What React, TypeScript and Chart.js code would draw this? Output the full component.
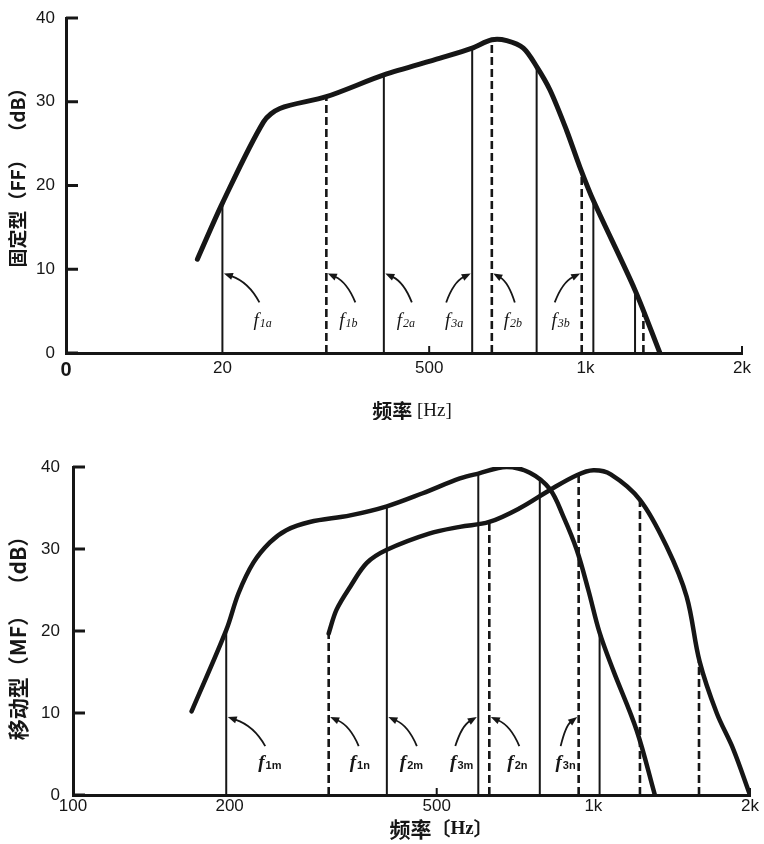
import React, { useEffect, useRef } from "react";
import { Chart, registerables } from "chart.js";

Chart.register(...registerables);

// ================= Data: 固定型 (FF) =================
const FF_FREQ = [179, 200, 240, 258, 317, 409, 525, 605, 660, 705, 759, 805, 854, 919, 975, 1035, 1245, 1390];
const FF_DB = [11.2, 17.9, 27.6, 29.2, 30.6, 33.2, 35.2, 36.4, 37.4, 37.3, 36.4, 34.2, 31.4, 26.6, 22.2, 18.2, 7.5, 0];
const FF_LINE_FREQ = [200, 317, 409, 605, 660, 805, 983, 1035, 1245, 1292];
const FF_LINE_TOP = [17.9, 30.6, 33.2, 36.4, 37.4, 34.2, 21.5, 18.2, 7.5, 5.2];
const FF_LINE_DASHED = [false, true, false, false, true, false, true, false, false, true];
const FF_MARK_LINE = [0, 1, 2, 3, 4, 6];
const FF_MARK_SUB = ["1a", "1b", "2a", "3a", "2b", "3b"];

// ================= Data: 移动型 (MF) =================
const MF_M_FREQ = [169, 197, 208, 222, 239, 257, 285, 341, 401, 470, 554, 601, 681, 755, 825, 875, 929, 978, 1028, 1092, 1211, 1313];
const MF_M_DB = [10.2, 20.1, 24.6, 28.3, 30.8, 32.3, 33.3, 34.1, 35.2, 36.8, 38.6, 39.2, 40.0, 39.3, 37.3, 34.0, 29.9, 25.0, 19.8, 15.2, 7.9, 0];
const MF_N_FREQ = [310, 321, 341, 367, 401, 485, 554, 631, 723, 825, 929, 1000, 1080, 1229, 1383, 1511, 1600, 1726, 1857, 2000];
const MF_N_DB = [19.7, 22.6, 25.4, 28.3, 29.9, 31.9, 32.7, 33.3, 35.0, 37.2, 39.0, 39.6, 39.1, 36.0, 30.3, 24.2, 16.3, 10.0, 5.6, 0];
const MF_LINE_FREQ = [197, 310, 401, 601, 631, 789, 937, 1028, 1229, 1596];
const MF_LINE_TOP = [20.1, 19.7, 35.2, 39.2, 33.3, 38.5, 39.1, 19.8, 36.0, 16.3];
const MF_LINE_DASHED = [false, true, false, false, true, false, true, false, true, true];
const MF_MARK_LINE = [0, 1, 2, 3, 4, 6];
const MF_MARK_SUB = ["1m", "1n", "2m", "3m", "2n", "3n"];

// ================= Axes =================
const X_TICKS = [100, 200, 500, 1000, 2000];
const FF_X_LABELS = ["0", "20", "500", "1k", "2k"];
const MF_X_LABELS = ["100", "200", "500", "1k", "2k"];
const Y_TICKS = [0, 10, 20, 30, 40];
const X_SMALL_MARKS = [500, 2000];
const LABEL_DB = 4;
const ARROW_DB = 9.5;

const INK = "#161616";
const CJK = '"Noto Sans CJK SC"';

type Run = [string, string];

const FF_LAYOUT = {
  width: 764,
  height: 420,
  plotLeft: 66,
  plotRight: 742,
  plotTop: 18,
  plotBottom: 353,
  xTickPad: -3,
  yTickPad: 3,
  curveWidth: 5,
  tension: 0.3,
  labelDx: [31, 13, 13, -9, 12, -12],
  arrowDx: [37, 29, 28, -26, 23, -27],
  fFont: 'italic 19px "Liberation Serif"',
  subFont: 'italic 12px "Liberation Serif"',
  yTitle: { x: 18, y: 173, runs: [["固定型（FF）  （dB）", `bold 19px ${CJK}`]] as Run[] },
  xTitle: {
    x: 412,
    y: 411,
    runs: [
      ["频率", `bold 20px ${CJK}`],
      [" [Hz]", '19px "Liberation Serif"'],
    ] as Run[],
  },
};

const MF_LAYOUT = {
  width: 764,
  height: 424,
  plotLeft: 73,
  plotRight: 750,
  plotTop: 47,
  plotBottom: 375,
  xTickPad: -7,
  yTickPad: 5,
  curveWidth: 4.5,
  tension: 0.35,
  labelDx: [32, 21, 13, -5, 18, -3],
  arrowDx: [39, 30, 30, -23, 30, -18],
  fFont: 'italic bold 19px "Liberation Serif"',
  subFont: 'bold 11px "Liberation Sans"',
  yTitle: { x: 18, y: 213, runs: [["移动型（MF）  （dB）", `bold 21px ${CJK}`]] as Run[] },
  xTitle: {
    x: 441,
    y: 409,
    runs: [
      ["频率", `bold 21px ${CJK}`],
      ["〔", `bold 19px ${CJK}`],
      ["Hz", 'bold 19px "Liberation Serif"'],
      ["〕", `bold 19px ${CJK}`],
    ] as Run[],
  },
};

function drawRuns(ctx: CanvasRenderingContext2D, runs: Run[], cx: number, cy: number) {
  let total = 0;
  const widths = runs.map(([t, f]) => {
    ctx.font = f;
    const w = ctx.measureText(t).width;
    total += w;
    return w;
  });
  let x = cx - total / 2;
  ctx.textAlign = "left";
  ctx.textBaseline = "middle";
  runs.forEach(([t, f], i) => {
    ctx.font = f;
    ctx.fillText(t, x, cy);
    x += widths[i];
  });
}

function decorPlugin(L: any, lineFreq: number[], markLine: number[], markSub: string[]) {
  return {
    id: "decor",
    afterDatasetsDraw(chart: any) {
      const ctx: CanvasRenderingContext2D = chart.ctx;
      const xs = chart.scales.x;
      const ys = chart.scales.y;
      const a = chart.chartArea;
      ctx.save();
      ctx.strokeStyle = INK;
      ctx.fillStyle = INK;
      ctx.setLineDash([]);

      // inward y ticks
      ctx.lineWidth = 3;
      ctx.lineCap = "butt";
      Y_TICKS.forEach((v) => {
        const py = ys.getPixelForValue(v);
        ctx.beginPath();
        ctx.moveTo(a.left, py);
        ctx.lineTo(a.left + 12, py);
        ctx.stroke();
      });
      // small upward x marks
      ctx.lineWidth = 2;
      X_SMALL_MARKS.forEach((v) => {
        const px = xs.getPixelForValue(v);
        ctx.beginPath();
        ctx.moveTo(px, a.bottom);
        ctx.lineTo(px, a.bottom - 7);
        ctx.stroke();
      });

      // annotation labels + curved arrows
      markLine.forEach((li, i) => {
        const lx = xs.getPixelForValue(lineFreq[li]);
        const dir = L.arrowDx[i] > 0 ? 1 : -1;
        const ex = lx + dir * 1.5;
        const ey = ys.getPixelForValue(ARROW_DB);
        const sx = lx + L.arrowDx[i];
        const sy = ey + 29;
        const cx = sx + (ex - sx) * 0.3;
        const cy = sy + (ey - sy) * 0.7;
        let tx = ex - cx;
        let ty = ey - cy;
        const tl = Math.hypot(tx, ty) || 1;
        tx /= tl;
        ty /= tl;
        const head = 9;
        const hw = 3.6;
        const bx = ex - tx * head;
        const by = ey - ty * head;
        ctx.lineWidth = 1.8;
        ctx.beginPath();
        ctx.moveTo(sx, sy);
        ctx.quadraticCurveTo(cx, cy, bx + tx * 1, by + ty * 1);
        ctx.stroke();
        ctx.beginPath();
        ctx.moveTo(ex, ey);
        ctx.lineTo(bx - ty * hw, by + tx * hw);
        ctx.lineTo(bx + ty * hw, by - tx * hw);
        ctx.closePath();
        ctx.fill();

        // label
        const base = ys.getPixelForValue(LABEL_DB) + 6;
        ctx.textBaseline = "alphabetic";
        ctx.textAlign = "left";
        ctx.font = L.fFont;
        const fw = ctx.measureText("f").width;
        ctx.font = L.subFont;
        const sw = ctx.measureText(markSub[i]).width;
        const total = fw + 1 + sw;
        const start = L.labelDx[i] >= 0 ? lx + L.labelDx[i] : lx + L.labelDx[i] - total;
        ctx.font = L.fFont;
        ctx.fillText("f", start, base);
        ctx.font = L.subFont;
        ctx.fillText(markSub[i], start + fw + 1, base + 1);
      });

      // axis titles
      ctx.save();
      ctx.translate(L.yTitle.x, L.yTitle.y);
      ctx.rotate(-Math.PI / 2);
      drawRuns(ctx, L.yTitle.runs, 0, 0);
      ctx.restore();
      drawRuns(ctx, L.xTitle.runs, L.xTitle.x, L.xTitle.y);
      ctx.restore();
    },
  };
}

function buildConfig(
  L: any,
  curves: { freq: number[]; db: number[] }[],
  lineFreq: number[],
  lineTop: number[],
  lineDashed: boolean[],
  markLine: number[],
  markSub: string[],
  xLabels: string[],
  boldZero: boolean
): any {
  const datasets: any[] = [];
  curves.forEach((c) =>
    datasets.push({
      data: c.freq.map((f, i) => ({ x: f, y: c.db[i] })),
      borderColor: INK,
      borderWidth: L.curveWidth,
      pointRadius: 0,
      tension: L.tension,
      borderCapStyle: "round",
      borderJoinStyle: "round",
      fill: false,
    })
  );
  lineFreq.forEach((f, i) =>
    datasets.push({
      data: [
        { x: f, y: 0 },
        { x: f, y: lineTop[i] },
      ],
      borderColor: INK,
      borderWidth: lineDashed[i] ? 2.6 : 2,
      borderDash: lineDashed[i] ? [8, 4] : [],
      pointRadius: 0,
      fill: false,
    })
  );

  const tickFont = { family: '"Liberation Sans"', size: 17 };
  return {
    type: "line",
    data: { datasets },
    options: {
      animation: false,
      responsive: false,
      devicePixelRatio: 1,
      events: [],
      layout: { padding: { left: 0, top: L.plotTop, right: L.width - L.plotRight, bottom: 0 } },
      plugins: { legend: { display: false }, tooltip: { enabled: false } },
      scales: {
        x: {
          type: "logarithmic",
          min: 100,
          max: 2000,
          grid: { display: false },
          border: { display: true, width: 3, color: INK },
          afterBuildTicks: (s: any) => {
            s.ticks = X_TICKS.map((v) => ({ value: v }));
          },
          afterFit: (s: any) => {
            s.height = L.height - L.plotBottom;
          },
          ticks: {
            autoSkip: false,
            maxRotation: 0,
            minRotation: 0,
            padding: L.xTickPad,
            color: INK,
            font: (c: any) =>
              boldZero && c.tick && c.tick.value === 100
                ? { family: '"Liberation Sans"', size: 20, weight: "bold" }
                : tickFont,
            callback: (_v: any, i: number) => xLabels[i],
          },
        },
        y: {
          type: "linear",
          min: 0,
          max: 40,
          grid: { display: false },
          border: { display: true, width: 3, color: INK },
          afterBuildTicks: (s: any) => {
            s.ticks = Y_TICKS.map((v) => ({ value: v }));
          },
          afterFit: (s: any) => {
            s.width = L.plotLeft;
          },
          ticks: {
            padding: L.yTickPad,
            color: INK,
            font: tickFont,
            callback: (v: any) => String(v),
          },
        },
      },
    },
    plugins: [decorPlugin(L, lineFreq, markLine, markSub)],
  };
}

function ChartCanvas({ build, width, height }: { build: () => any; width: number; height: number }) {
  const ref = useRef<HTMLCanvasElement>(null);
  useEffect(() => {
    if (!ref.current) return;
    const chart = new Chart(ref.current, build());
    return () => chart.destroy();
  }, []);
  return <canvas ref={ref} width={width} height={height} style={{ display: "block", width, height }} />;
}

const buildFF = () =>
  buildConfig(
    FF_LAYOUT,
    [{ freq: FF_FREQ, db: FF_DB }],
    FF_LINE_FREQ,
    FF_LINE_TOP,
    FF_LINE_DASHED,
    FF_MARK_LINE,
    FF_MARK_SUB,
    FF_X_LABELS,
    true
  );

const buildMF = () =>
  buildConfig(
    MF_LAYOUT,
    [
      { freq: MF_M_FREQ, db: MF_M_DB },
      { freq: MF_N_FREQ, db: MF_N_DB },
    ],
    MF_LINE_FREQ,
    MF_LINE_TOP,
    MF_LINE_DASHED,
    MF_MARK_LINE,
    MF_MARK_SUB,
    MF_X_LABELS,
    false
  );

export default function App() {
  return (
    <div
      style={{
        position: "absolute",
        left: 0,
        top: 0,
        width: 764,
        height: 844,
        background: "#fff",
        overflow: "hidden",
      }}
    >
      <ChartCanvas build={buildFF} width={FF_LAYOUT.width} height={FF_LAYOUT.height} />
      <ChartCanvas build={buildMF} width={MF_LAYOUT.width} height={MF_LAYOUT.height} />
    </div>
  );
}
